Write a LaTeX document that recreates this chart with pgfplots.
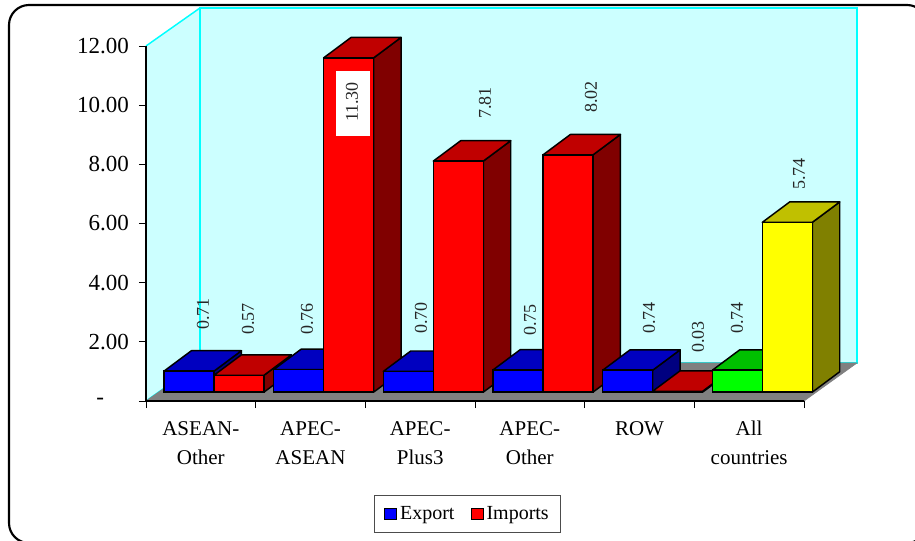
\documentclass[border=0pt]{standalone}
\usepackage{pgfplots}
\usepackage{pgfplotstable}
\usepackage{fontspec}
\setmainfont{Liberation Serif}
\pgfplotsset{compat=1.18}

\definecolor{wall}{RGB}{204,255,255}
\definecolor{wallline}{RGB}{0,255,255}
\definecolor{floorgray}{RGB}{128,128,128}
\definecolor{bluefront}{RGB}{0,0,255}
\definecolor{bluetop}{RGB}{0,0,192}
\definecolor{blueside}{RGB}{0,0,128}
\definecolor{redfront}{RGB}{255,0,0}
\definecolor{redtop}{RGB}{192,0,0}
\definecolor{redside}{RGB}{128,0,0}
\definecolor{greenfront}{RGB}{0,255,0}
\definecolor{greentop}{RGB}{0,192,0}
\definecolor{greenside}{RGB}{0,128,0}
\definecolor{yellowfront}{RGB}{255,255,0}
\definecolor{yellowtop}{RGB}{192,192,0}
\definecolor{yellowside}{RGB}{128,128,0}

% x = category number, y = value
\pgfplotstableread{
x y
0 0.71
1 0.76
2 0.70
3 0.75
4 0.74
}\exporttable
\pgfplotstableread{
x y
0 0.57
1 11.30
2 7.81
3 8.02
4 0.03
}\importtable
\pgfplotstableread{
x y
5 0.74
}\allexport
\pgfplotstableread{
x y
5 5.74
}\allimport

% top and side of one box: left edge, value, top colour, side colour
\newcommand{\boxdepth}[4]{%
  \pgfmathsetmacro\xr{#1+0.456}%
  \pgfmathsetmacro\xrb{#1+0.706}%
  \pgfmathsetmacro\xlb{#1+0.25}%
  \pgfmathsetmacro\yb{#2+0.69}%
  \addplot[forget plot,fill=#4,draw=black,line width=1.1pt,line join=round]
    coordinates {(\xr,0) (\xrb,0.69) (\xrb,\yb) (\xr,#2)} --cycle;
  \addplot[forget plot,fill=#3,draw=black,line width=1.1pt,line join=round]
    coordinates {(#1,#2) (\xr,#2) (\xrb,\yb) (\xlb,\yb)} --cycle;
}
% value label, position in pixels of the picture
\newcommand{\vlabel}[3]{%
  \node[rotate=90,font=\fontsize{13.5}{15}\selectfont,text=black!85] at ({#1*0.75pt},{-#2*0.75pt}) {#3};
}

\begin{document}
\begin{tikzpicture}
\useasboundingbox (0,0) rectangle (686.25pt,-405.75pt);
\clip (0,0) rectangle (686.25pt,-405.75pt);
\draw[line width=1.6pt,rounded corners=15pt] (6.75pt,-3.75pt) rectangle (695.25pt,-407.25pt);

\begin{axis}[
    at={(109.5pt,-300.75pt)},
    anchor=south west,
    scale only axis,
    width=493.5pt,
    height=266.25pt,
    xmin=0,xmax=6,
    ymin=0,ymax=12,
    clip=false,
    axis on top,
    axis x line=bottom,
    axis y line=left,
    axis line style={-,black,line width=.8pt},
    tick align=outside,
    xtick={0.5,1.5,2.5,3.5,4.5,5.5},
    xticklabels={{ASEAN-\\Other},{APEC-\\ASEAN},{APEC-\\Plus3},{APEC-\\Other},{ROW},{All\\countries}},
    minor xtick={0,1,2,3,4,5,6},
    major x tick style={draw=none},
    minor x tick style={black,line width=.7pt},
    minor tick length=5.25pt,
    xticklabel style={align=center,font=\fontsize{15.75}{21.75}\selectfont,yshift=-6.5pt},
    ytick={0,2,4,6,8,10,12},
    yticklabels={{-\hspace{18.75pt}\mbox{}},2.00,4.00,6.00,8.00,10.00,12.00},
    major y tick style={black,line width=.7pt},
    major tick length=5.25pt,
    yticklabel style={font=\fontsize{17.25}{18}\selectfont,xshift=-4pt},
]
  \addplot[fill=wall,draw=none] coordinates {(0,0) (0,12) (0.492,13.285) (0.492,1.285)} --cycle;
  \addplot[fill=wall,draw=wallline,line width=1.1pt] coordinates {(0.492,1.285) (0.492,13.285) (6.483,13.285) (6.483,1.285)} --cycle;
  \addplot[draw=wallline,line width=1.1pt] coordinates {(0,0) (0.492,1.285)};
  \addplot[draw=wallline,line width=1.1pt] coordinates {(0,12) (0.492,13.285)};
  \addplot[fill=floorgray,draw=floorgray,line width=.5pt] coordinates {(0.15,0.39) (0.492,1.285) (6.483,1.285) (6,0) (0,0) (0.15,0.39)} --cycle;
\end{axis}

\begin{axis}[
    at={(109.5pt,-300.75pt)},
    anchor=south west,
    scale only axis,
    width=493.5pt,
    height=266.25pt,
    xmin=-0.62,xmax=5.38,
    ymin=-0.3,ymax=11.7,
    clip=false,
    hide axis,
    legend columns=2,
    legend style={at={(axis description cs:0.489,-0.318)},anchor=center,
      draw=black!70,line width=.7pt,font=\fontsize{15}{17}\selectfont,
      /tikz/every even column/.append style={column sep=10pt},
      inner xsep=7pt,inner ysep=6.5pt},
    legend image code/.code={%
      \draw[#1,draw=black,line width=1pt,bar shift=0pt] (0pt,-4.25pt) rectangle (9pt,4.25pt);},
]
  \boxdepth{-0.456}{0.71}{bluetop}{blueside}
  \boxdepth{0}{0.57}{redtop}{redside}
  \boxdepth{0.544}{0.76}{bluetop}{blueside}
  \boxdepth{1}{11.30}{redtop}{redside}
  \boxdepth{1.544}{0.70}{bluetop}{blueside}
  \boxdepth{2}{7.81}{redtop}{redside}
  \boxdepth{2.544}{0.75}{bluetop}{blueside}
  \boxdepth{3}{8.02}{redtop}{redside}
  \boxdepth{3.544}{0.74}{bluetop}{blueside}
  \boxdepth{4}{0.03}{redtop}{redside}
  \boxdepth{4.544}{0.74}{greentop}{greenside}
  \boxdepth{5}{5.74}{yellowtop}{yellowside}

  \addplot[ybar,bar width=37.5pt,bar shift=-18.75pt,fill=bluefront,draw=black,line width=1.1pt] table[x=x,y=y] {\exporttable};
  \addplot[ybar,bar width=37.5pt,bar shift=18.75pt,fill=redfront,draw=black,line width=1.1pt] table[x=x,y=y] {\importtable};
  \addplot[forget plot,ybar,bar width=37.5pt,bar shift=-18.75pt,fill=greenfront,draw=black,line width=1.1pt] table[x=x,y=y] {\allexport};
  \addplot[forget plot,ybar,bar width=37.5pt,bar shift=18.75pt,fill=yellowfront,draw=black,line width=1.1pt] table[x=x,y=y] {\allimport};
  \legend{Export,Imports}
\end{axis}

\node[fill=white,minimum width=48.75pt,minimum height=25.5pt,rotate=90] at (265.1pt,-77.6pt) {};
\vlabel{203}{314}{0.71}
\vlabel{248}{319}{0.57}
\vlabel{307}{319}{0.76}
\vlabel{352}{102}{11.30}
\vlabel{421}{318}{0.70}
\vlabel{485}{103}{7.81}
\vlabel{530}{320}{0.75}
\vlabel{591}{97}{8.02}
\vlabel{649}{318}{0.74}
\vlabel{698}{337}{0.03}
\vlabel{737}{318}{0.74}
\vlabel{799}{174}{5.74}
\end{tikzpicture}
\end{document}
